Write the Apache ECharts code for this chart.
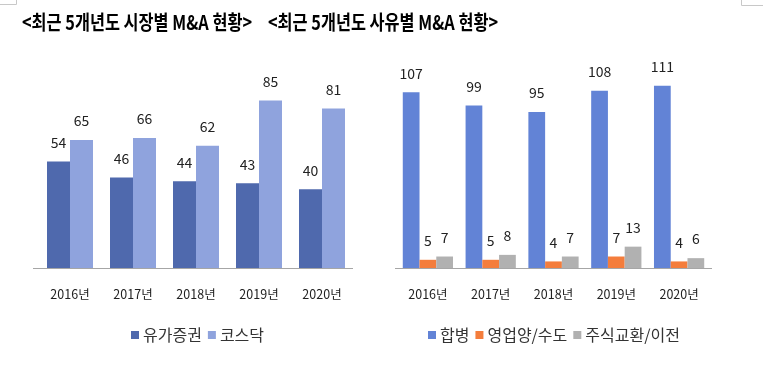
<!DOCTYPE html>
<html>
<head>
<meta charset="utf-8">
<script src="https://cdn.jsdelivr.net/npm/echarts@6/dist/echarts.min.js"></script>
<style>
  html, body { margin: 0; padding: 0; background: #fff; }
  #chart { width: 763px; height: 375px; }
</style>
</head>
<body>
<div id="chart"></div>
<script>
const years = ['2016년', '2017년', '2018년', '2019년', '2020년'];

// 시장별
const kospi = [54, 46, 44, 43, 40];    // 유가증권
const kosdaq = [65, 66, 62, 85, 81];   // 코스닥

// 사유별
const merger = [107, 99, 95, 108, 111];  // 합병
const transfer = [5, 5, 4, 7, 4];        // 영업양/수도
const exchange = [7, 8, 7, 13, 6];       // 주식교환/이전

const FONT = '"Noto Sans CJK KR", "Noto Sans", sans-serif';

const chart = echarts.init(document.getElementById('chart'), null, { renderer: 'canvas' });

const labelStyle = {
  show: true,
  position: 'top',
  distance: 12,
  fontSize: 14,
  color: '#222',
  fontFamily: FONT
};

const xAxisBase = {
  type: 'category',
  data: years,
  axisTick: { show: false },
  axisLine: { show: false },
  axisLabel: { fontSize: 12.5, color: '#222', fontFamily: FONT, margin: 20 }
};

const yAxisBase = {
  type: 'value',
  min: 0,
  show: false,
  splitLine: { show: false }
};

const legendText = { fontSize: 16, color: '#333', fontFamily: FONT, padding: [0, 0, 0, -1] };

// titles are drawn a bit condensed, like the original bold Gulim-ish face
function titleText(str, x) {
  return {
    type: 'text', x: x, y: 22.5, scaleX: 0.815,
    style: {
      text: str, fill: '#000', font: 'bold 20px ' + FONT,
      textAlign: 'left', textVerticalAlign: 'middle'
    }
  };
}

chart.setOption({
  animation: false,
  legend: [
    {
      data: ['유가증권', '코스닥'],
      left: 126, top: 322,
      itemWidth: 8, itemHeight: 8, itemGap: 6,
      icon: 'rect',
      textStyle: legendText
    },
    {
      data: ['합병', '영업양/수도', '주식교환/이전'],
      left: 423, top: 322,
      itemWidth: 8, itemHeight: 8, itemGap: 6,
      icon: 'rect',
      textStyle: legendText
    }
  ],
  grid: [
    { left: 38.5, top: 71, width: 315, height: 197 },
    { left: 396.5, top: 71, width: 314, height: 197 }
  ],
  xAxis: [
    Object.assign({ gridIndex: 0 }, xAxisBase),
    Object.assign({ gridIndex: 1 }, xAxisBase)
  ],
  yAxis: [
    Object.assign({ gridIndex: 0, max: 100 }, yAxisBase),
    Object.assign({ gridIndex: 1, max: 120 }, yAxisBase)
  ],
  graphic: [
    titleText('<최근 5개년도 시장별 M&A 현황>', 22),
    titleText('<최근 5개년도 사유별 M&A 현황>', 268),
    // baselines (slightly longer than the plotting area)
    { type: 'line', shape: { x1: 33, y1: 268.5, x2: 353, y2: 268.5 }, style: { stroke: '#a6a6a6', lineWidth: 1 } },
    { type: 'line', shape: { x1: 395, y1: 268.5, x2: 712, y2: 268.5 }, style: { stroke: '#a6a6a6', lineWidth: 1 } },
    // faint cell borders in the corners
    { type: 'polyline', shape: { points: [[0, 4.5], [16.5, 4.5], [16.5, 0]] }, style: { stroke: '#c8c8c8', fill: null, lineWidth: 1 } },
    { type: 'polyline', shape: { points: [[741.5, 0], [741.5, 5.5], [763, 5.5]] }, style: { stroke: '#c8c8c8', fill: null, lineWidth: 1 } }
  ],
  series: [
    {
      name: '유가증권', type: 'bar', xAxisIndex: 0, yAxisIndex: 0,
      data: kospi, barGap: '0%', barCategoryGap: '27%',
      itemStyle: { color: '#4f69ad' }, label: labelStyle
    },
    {
      name: '코스닥', type: 'bar', xAxisIndex: 0, yAxisIndex: 0,
      data: kosdaq, barGap: '0%', barCategoryGap: '27%',
      itemStyle: { color: '#8fa3dd' }, label: labelStyle
    },
    {
      name: '합병', type: 'bar', xAxisIndex: 1, yAxisIndex: 1,
      data: merger, barGap: '0%', barCategoryGap: '20%',
      itemStyle: { color: '#6283d6' }, label: labelStyle
    },
    {
      name: '영업양/수도', type: 'bar', xAxisIndex: 1, yAxisIndex: 1,
      data: transfer, barGap: '0%', barCategoryGap: '20%',
      itemStyle: { color: '#f47d3c' }, label: labelStyle
    },
    {
      name: '주식교환/이전', type: 'bar', xAxisIndex: 1, yAxisIndex: 1,
      data: exchange, barGap: '0%', barCategoryGap: '20%',
      itemStyle: { color: '#b1b1b1' }, label: labelStyle
    }
  ]
});
</script>
</body>
</html>
